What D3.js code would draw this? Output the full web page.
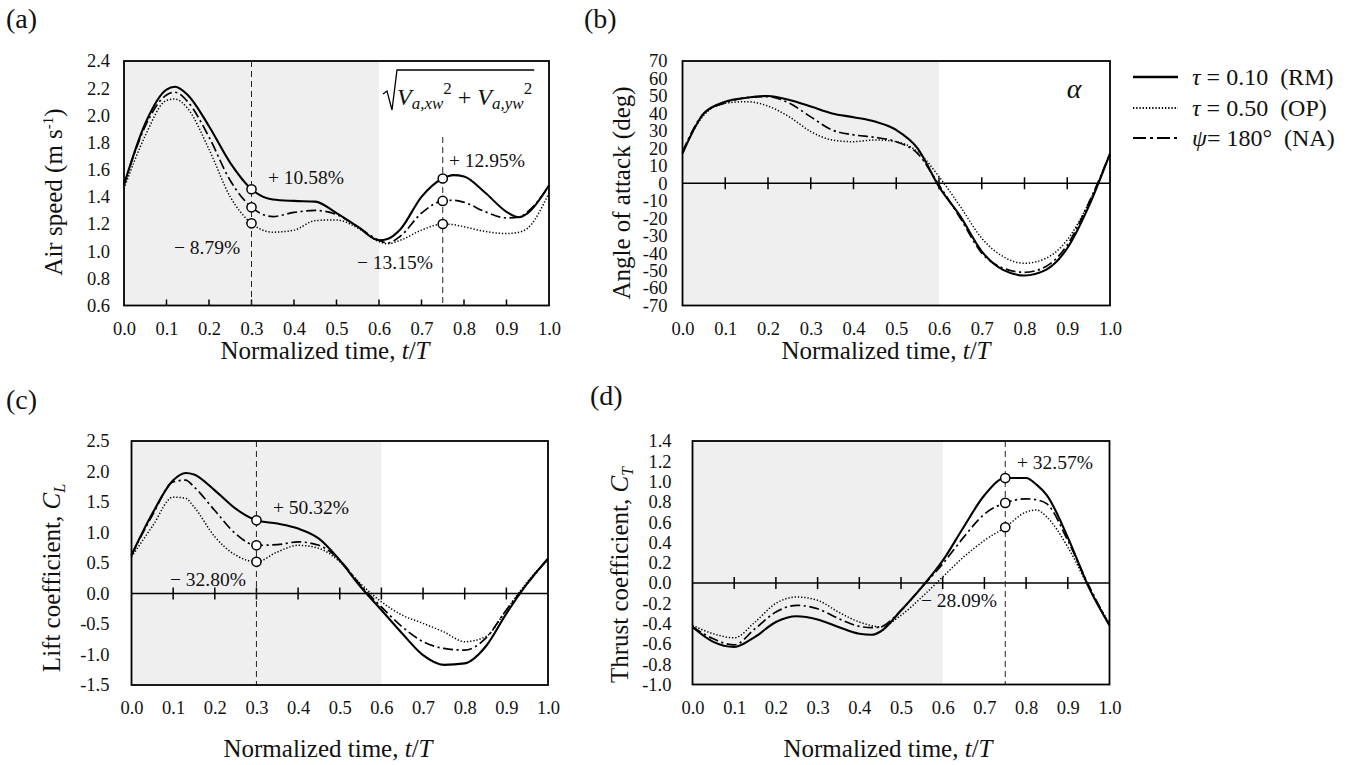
<!DOCTYPE html>
<html>
<head>
<meta charset="utf-8">
<script src="https://cdn.jsdelivr.net/npm/d3@7"></script>
<style>
  body { margin: 0; background: #fff; }
  svg { display: block; }
  svg text { font-family: "Liberation Serif", "Times New Roman", serif !important; fill: #111; }
</style>
</head>
<body>
<div id="chart"></div>
<script>
// ---- data ----
// (a) air speed
const tAir = [0, 0.05, 0.1, 0.12, 0.15, 0.2, 0.25, 0.3, 0.35, 0.4, 0.45, 0.5, 0.55, 0.6, 0.62, 0.65, 0.7, 0.75, 0.775, 0.8, 0.85, 0.9, 0.93, 0.95, 1.0];
const airRM = [1.49, 1.94, 2.19, 2.21, 2.15, 1.92, 1.65, 1.456, 1.38, 1.37, 1.365, 1.28, 1.18, 1.08, 1.09, 1.16, 1.40, 1.535, 1.56, 1.55, 1.43, 1.29, 1.25, 1.28, 1.485];
const airOP = [1.46, 1.85, 2.11, 2.12, 2.05, 1.75, 1.40, 1.205, 1.14, 1.155, 1.225, 1.23, 1.17, 1.07, 1.055, 1.08, 1.155, 1.20, 1.195, 1.18, 1.145, 1.13, 1.14, 1.17, 1.43];
const airNA = [1.49, 1.92, 2.15, 2.17, 2.10, 1.84, 1.52, 1.323, 1.255, 1.285, 1.30, 1.27, 1.18, 1.08, 1.06, 1.11, 1.28, 1.37, 1.375, 1.36, 1.29, 1.245, 1.25, 1.29, 1.48];

// (b) angle of attack
const tAoa = [0, 0.05, 0.1, 0.15, 0.2, 0.25, 0.3, 0.35, 0.4, 0.45, 0.5, 0.55, 0.6, 0.65, 0.7, 0.75, 0.8, 0.85, 0.9, 0.95, 1.0];
const aoaRM = [17, 40, 46.7, 49, 50, 47.7, 44, 40, 37.8, 35.3, 30.5, 20, -2, -19, -39, -49.6, -52.8, -49.6, -37.2, -13.4, 17];
const aoaOP = [18, 39, 45.8, 46.7, 44.2, 38, 29.6, 24.8, 23.8, 24.8, 23.8, 18, 3.8, -13.4, -31.5, -42, -45.8, -43, -32.4, -11.4, 17];
const aoaNA = [18, 40, 46, 49, 49.6, 45.8, 38, 30.5, 27.7, 26.3, 23.8, 17, -1, -20, -40, -48.6, -51, -47.7, -35.3, -11.4, 17];

// (c) lift coefficient
const tLift = [0, 0.05, 0.1, 0.13, 0.15, 0.2, 0.25, 0.3, 0.35, 0.4, 0.45, 0.5, 0.55, 0.6, 0.65, 0.7, 0.75, 0.8, 0.85, 0.9, 0.95, 1.0];
const liftRM = [0.63, 1.31, 1.855, 1.975, 1.95, 1.69, 1.39, 1.20, 1.146, 1.064, 0.90, 0.546, 0.11, -0.27, -0.655, -1.01, -1.17, -1.146, -0.873, -0.33, 0.16, 0.573];
const liftOP = [0.6, 1.10, 1.58, 1.56, 1.42, 0.93, 0.63, 0.52, 0.68, 0.79, 0.74, 0.52, 0.16, -0.136, -0.355, -0.49, -0.63, -0.79, -0.71, -0.27, 0.19, 0.55];
const liftNA = [0.63, 1.28, 1.83, 1.86, 1.75, 1.36, 0.98, 0.79, 0.80, 0.846, 0.79, 0.546, 0.136, -0.22, -0.546, -0.79, -0.90, -0.928, -0.737, -0.27, 0.16, 0.57];

// (d) thrust coefficient
const tThrust = [0, 0.05, 0.1, 0.15, 0.2, 0.25, 0.3, 0.35, 0.4, 0.43, 0.45, 0.5, 0.55, 0.6, 0.65, 0.7, 0.75, 0.8, 0.825, 0.85, 0.9, 0.95, 1.0];
const thrustRM = [-0.433, -0.58, -0.63, -0.53, -0.384, -0.328, -0.36, -0.433, -0.50, -0.51, -0.48, -0.27, -0.04, 0.22, 0.55, 0.865, 1.035, 1.035, 0.97, 0.865, 0.45, -0.04, -0.417];
const thrustOP = [-0.417, -0.50, -0.54, -0.384, -0.20, -0.138, -0.17, -0.286, -0.384, -0.42, -0.433, -0.318, -0.138, 0.06, 0.256, 0.42, 0.55, 0.70, 0.72, 0.65, 0.355, -0.04, -0.40];
const thrustNA = [-0.43, -0.55, -0.61, -0.45, -0.286, -0.22, -0.253, -0.35, -0.427, -0.44, -0.433, -0.27, -0.04, 0.19, 0.45, 0.68, 0.79, 0.83, 0.82, 0.78, 0.42, -0.02, -0.42];

// tick values
const timeTicks = [0, 0.1, 0.2, 0.3, 0.4, 0.5, 0.6, 0.7, 0.8, 0.9, 1.0];
const airTicks = [0.6, 0.8, 1.0, 1.2, 1.4, 1.6, 1.8, 2.0, 2.2, 2.4];
const aoaTicks = [-70, -60, -50, -40, -30, -20, -10, 0, 10, 20, 30, 40, 50, 60, 70];
const liftTicks = [-1.5, -1.0, -0.5, 0.0, 0.5, 1.0, 1.5, 2.0, 2.5];
const thrustTicks = [-1.0, -0.8, -0.6, -0.4, -0.2, 0.0, 0.2, 0.4, 0.6, 0.8, 1.0, 1.2, 1.4];

// shaded phase and comparison markers
const shadedPhase = [0, 0.6];
const airMarkTimes = [0.3, 0.75];
const liftMarkTimes = [0.3];
const thrustMarkTimes = [0.75];
const airNotes = ["+ 10.58%", "\u2212 8.79%", "\u2212 13.15%", "+ 12.95%"];
const liftNotes = ["+ 50.32%", "\u2212 32.80%"];
const thrustNotes = ["+ 32.57%", "\u2212 28.09%"];

const legendSymbols = ["\u03c4", "\u03c4", "\u03c8"];
const legendLabels = [" = 0.10\u00a0\u00a0(RM)", " = 0.50\u00a0\u00a0(OP)", "= 180\u00b0\u00a0\u00a0(NA)"];
const seriesKeys = ["RM", "OP", "NA"];

const styles = {
    RM: { dash: null, width: 2.1 },
    OP: { dash: "1.3,1.9", width: 1.5 },
    NA: { dash: "10,3.5,2.2,3.5", width: 1.7 }
};

const svg = d3.select("#chart").append("svg")
    .attr("width", 1352)
    .attr("height", 765);

function drawPanel(p) {
    const x = d3.scaleLinear().domain([0, 1]).range([p.left, p.right]);
    const y = d3.scaleLinear().domain(p.yDomain).range([p.bottom, p.top]);
    const g = svg.append("g");

    // grey phase
    g.append("rect")
        .attr("x", x(shadedPhase[0]))
        .attr("y", p.top)
        .attr("width", x(shadedPhase[1]) - x(shadedPhase[0]))
        .attr("height", p.bottom - p.top)
        .attr("fill", "#efefef");

    // y axis labels
    const yAxis = d3.axisLeft(y)
        .tickValues(p.yTicks)
        .tickSize(0)
        .tickPadding(p.yPad)
        .tickFormat(p.yFormat);
    g.append("g")
        .attr("transform", "translate(" + p.left + ",0)")
        .call(yAxis)
        .call(a => a.select(".domain").remove())
        .selectAll("text")
        .attr("font-size", 18.5);

    // x axis labels
    const xAxis = d3.axisBottom(x)
        .tickValues(timeTicks)
        .tickSize(0)
        .tickPadding(16)
        .tickFormat(d3.format(".1f"));
    g.append("g")
        .attr("transform", "translate(0," + p.bottom + ")")
        .call(xAxis)
        .call(a => a.select(".domain").remove())
        .selectAll("text")
        .attr("font-size", 18.5);

    // tick marks: inside the bottom edge or across the zero line
    const inner = timeTicks.slice(1, -1);
    if (p.zeroLine) {
        g.append("line")
            .attr("x1", p.left).attr("x2", p.right)
            .attr("y1", y(0)).attr("y2", y(0))
            .attr("stroke", "#000").attr("stroke-width", 1.6);
        g.selectAll(".ztick").data(inner).enter().append("line")
            .attr("x1", d => x(d)).attr("x2", d => x(d))
            .attr("y1", y(0) - 6).attr("y2", y(0) + 6)
            .attr("stroke", "#000").attr("stroke-width", 1.5);
    } else {
        g.selectAll(".btick").data(inner).enter().append("line")
            .attr("x1", d => x(d)).attr("x2", d => x(d))
            .attr("y1", p.bottom).attr("y2", p.bottom - 6)
            .attr("stroke", "#000").attr("stroke-width", 1.5);
    }

    // dashed guide lines
    p.guides.forEach(gd => {
        g.append("line")
            .attr("x1", x(gd.t)).attr("x2", x(gd.t))
            .attr("y1", gd.from == null ? p.top : y(gd.from))
            .attr("y2", p.bottom)
            .attr("stroke", "#222").attr("stroke-width", 1)
            .attr("stroke-dasharray", "6,4");
    });

    // curves
    const line = d3.line()
        .x(d => x(d[0]))
        .y(d => y(d[1]))
        .curve(d3.curveMonotoneX);
    seriesKeys.forEach(k => {
        const pts = p.t.map((t, i) => [t, p.series[k][i]]);
        g.append("path")
            .datum(pts)
            .attr("fill", "none")
            .attr("stroke", "#000")
            .attr("stroke-width", styles[k].width)
            .attr("stroke-dasharray", styles[k].dash)
            .attr("d", line);
    });

    // comparison markers
    p.marks.forEach(mt => {
        const idx = p.t.indexOf(mt);
        seriesKeys.forEach(k => {
            g.append("circle")
                .attr("cx", x(mt))
                .attr("cy", y(p.series[k][idx]))
                .attr("r", 4.6)
                .attr("fill", "#fff")
                .attr("stroke", "#000")
                .attr("stroke-width", 1.5);
        });
    });

    // frame
    g.append("rect")
        .attr("x", p.left).attr("y", p.top)
        .attr("width", p.right - p.left).attr("height", p.bottom - p.top)
        .attr("fill", "none").attr("stroke", "#000").attr("stroke-width", 1.8);

    // annotations
    p.notes.forEach((txt, i) => {
        g.append("text")
            .attr("x", p.notePos[i][0]).attr("y", p.notePos[i][1])
            .attr("font-size", 19.5)
            .text(txt);
    });

    // panel letter
    svg.append("text")
        .attr("x", p.letterPos[0]).attr("y", p.letterPos[1])
        .attr("font-size", 28)
        .text(p.letter);

    // x title
    const xt = svg.append("text")
        .attr("x", p.xTitlePos[0]).attr("y", p.xTitlePos[1])
        .attr("text-anchor", "middle")
        .attr("font-size", 25);
    xt.append("tspan").text("Normalized time, ");
    xt.append("tspan").attr("font-style", "italic").text("t");
    xt.append("tspan").text("/");
    xt.append("tspan").attr("font-style", "italic").text("T");

    // y title
    const yt = svg.append("text")
        .attr("transform", "translate(" + p.yTitlePos[0] + "," + p.yTitlePos[1] + ") rotate(-90)")
        .attr("text-anchor", "middle")
        .attr("font-size", 25);
    p.yTitle(yt);

    return { x, y };
}

const fmt1 = d => d.toFixed(1);

drawPanel({
    letter: "(a)", letterPos: [6, 28],
    left: 124, top: 61, right: 549, bottom: 305.5, yPad: 14,
    yDomain: [0.6, 2.4], yTicks: airTicks, yFormat: fmt1,
    t: tAir, series: { RM: airRM, OP: airOP, NA: airNA },
    zeroLine: false,
    guides: [{ t: airMarkTimes[0] }, { t: airMarkTimes[1], from: 1.84 }],
    marks: airMarkTimes,
    notes: airNotes, notePos: [[268, 184], [174, 254], [357, 269], [449, 167]],
    xTitlePos: [325, 359], yTitlePos: [62, 192],
    yTitle: t => {
        t.append("tspan").text("Air speed (m s");
        t.append("tspan").attr("font-size", 15).attr("dy", -9).text("-1");
        t.append("tspan").attr("dy", 9).text(")");
    }
});

drawPanel({
    letter: "(b)", letterPos: [584, 28],
    left: 682.5, top: 61, right: 1110, bottom: 305.5, yPad: 15,
    yDomain: [-70, 70], yTicks: aoaTicks, yFormat: d => String(d),
    t: tAoa, series: { RM: aoaRM, OP: aoaOP, NA: aoaNA },
    zeroLine: true, guides: [], marks: [],
    notes: [], notePos: [],
    xTitlePos: [886, 359], yTitlePos: [630, 193],
    yTitle: t => t.text("Angle of attack (deg)")
});

drawPanel({
    letter: "(c)", letterPos: [6, 409],
    left: 131.5, top: 441, right: 548, bottom: 685, yPad: 22,
    yDomain: [-1.5, 2.5], yTicks: liftTicks, yFormat: fmt1,
    t: tLift, series: { RM: liftRM, OP: liftOP, NA: liftNA },
    zeroLine: true,
    guides: [{ t: liftMarkTimes[0] }],
    marks: liftMarkTimes,
    notes: liftNotes, notePos: [[273, 514], [170, 586]],
    xTitlePos: [328, 757], yTitlePos: [60, 578],
    yTitle: t => {
        t.append("tspan").text("Lift coefficient, ");
        t.append("tspan").attr("font-style", "italic").text("C");
        t.append("tspan").attr("font-style", "italic").attr("font-size", 16).attr("dy", 5).text("L");
    }
});

drawPanel({
    letter: "(d)", letterPos: [590, 405],
    left: 692.5, top: 441, right: 1109.5, bottom: 684.5, yPad: 21,
    yDomain: [-1.0, 1.4], yTicks: thrustTicks, yFormat: fmt1,
    t: tThrust, series: { RM: thrustRM, OP: thrustOP, NA: thrustNA },
    zeroLine: true,
    guides: [{ t: thrustMarkTimes[0] }],
    marks: thrustMarkTimes,
    notes: thrustNotes, notePos: [[1017, 469], [921, 607]],
    xTitlePos: [888, 757], yTitlePos: [628, 575],
    yTitle: t => {
        t.append("tspan").text("Thrust coefficient, ");
        t.append("tspan").attr("font-style", "italic").text("C");
        t.append("tspan").attr("font-style", "italic").attr("font-size", 16).attr("dy", 5).text("T");
    }
});

// formula in (a)
const fx = svg.append("text")
    .attr("x", 397).attr("y", 105)
    .attr("font-size", 24)
    .attr("font-style", "italic");
fx.append("tspan").text("V");
fx.append("tspan").attr("font-size", 17).attr("dy", 4).text("a,xw");
fx.append("tspan").attr("font-size", 17).attr("font-style", "normal").attr("dy", -15).text("2");
fx.append("tspan").attr("font-style", "normal").attr("dy", 11).text(" + ");
fx.append("tspan").text("V");
fx.append("tspan").attr("font-size", 17).attr("dy", 4).text("a,yw");
fx.append("tspan").attr("font-size", 17).attr("font-style", "normal").attr("dy", -15).text("2");
const fEnd = 397 + fx.node().getComputedTextLength() + 2;
svg.append("path")
    .attr("d", "M383,94 L387,91 L392,110 L397,70 L" + fEnd + ",70")
    .attr("fill", "none").attr("stroke", "#000").attr("stroke-width", 1.3);

// alpha label in (b)
svg.append("text")
    .attr("x", 1074).attr("y", 98)
    .attr("text-anchor", "middle")
    .attr("font-size", 28)
    .attr("font-style", "italic")
    .text("\u03b1");

// legend
const legRows = [77, 108, 138];
seriesKeys.forEach((k, i) => {
    svg.append("line")
        .attr("x1", 1133).attr("x2", 1178)
        .attr("y1", legRows[i]).attr("y2", legRows[i])
        .attr("stroke", "#000")
        .attr("stroke-width", styles[k].width + 0.3)
        .attr("stroke-dasharray", k === "NA" ? "13,4,3,4" : styles[k].dash);
    const lt = svg.append("text")
        .attr("x", 1192).attr("y", legRows[i] + 8)
        .attr("font-size", 24);
    lt.append("tspan").attr("font-style", "italic").text(legendSymbols[i]);
    lt.append("tspan").text(legendLabels[i]);
});
</script>
</body>
</html>
